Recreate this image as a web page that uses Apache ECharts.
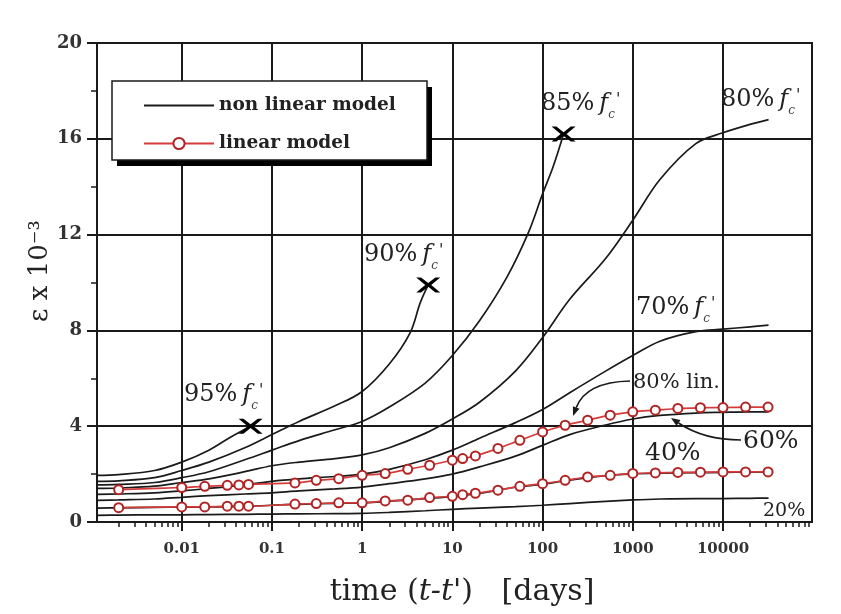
<!DOCTYPE html>
<html>
<head>
<meta charset="utf-8">
<script src="https://cdn.jsdelivr.net/npm/echarts@6/dist/echarts.min.js"></script>
<style>
  html, body { margin: 0; padding: 0; background: #fff; }
  #chart { width: 841px; height: 614px; }
</style>
</head>
<body>
<div id="chart"></div>
<script>
// ---- axis ticks ----
const xRange = [0.00115, 97000];                 // days
const xTickValues = [0.01, 0.1, 1, 10, 100, 1000, 10000];
const xTickLabels = ['0.01', '0.1', '1', '10', '100', '1000', '10000'];
const yTicks = [0, 4, 8, 12, 16, 20];

// ---- non linear model: sustained stress levels below failure ----
const tCreep = [0.00115, 0.002, 0.005, 0.01, 0.02, 0.05, 0.1, 0.2, 0.5, 1, 2, 5, 10, 20, 50, 100, 200, 500, 1000, 2000, 5000, 10000, 20000, 32000];
const eps80 = [1.40, 1.42, 1.50, 1.65, 1.80, 2.10, 2.35, 2.50, 2.65, 2.80, 3.10, 3.70, 4.30, 5.00, 6.30, 7.70, 9.30, 11.0, 12.6, 14.3, 15.8, 16.25, 16.6, 16.8];
const eps70 = [1.15, 1.17, 1.22, 1.30, 1.40, 1.55, 1.70, 1.80, 1.90, 2.00, 2.20, 2.60, 3.00, 3.50, 4.15, 4.70, 5.40, 6.30, 6.95, 7.55, 7.95, 8.05, 8.15, 8.22];
const eps60 = [0.90, 0.92, 0.96, 1.03, 1.10, 1.17, 1.22, 1.30, 1.38, 1.46, 1.60, 1.80, 2.00, 2.30, 2.75, 3.20, 3.65, 4.05, 4.30, 4.45, 4.55, 4.58, 4.60, 4.60];
const eps40 = [0.58, 0.59, 0.61, 0.62, 0.63, 0.65, 0.70, 0.74, 0.78, 0.80, 0.87, 0.98, 1.06, 1.20, 1.45, 1.58, 1.75, 1.93, 2.01, 2.04, 2.06, 2.07, 2.08, 2.08];
const eps20 = [0.28, 0.29, 0.30, 0.30, 0.31, 0.32, 0.33, 0.34, 0.35, 0.36, 0.40, 0.47, 0.53, 0.58, 0.64, 0.70, 0.77, 0.86, 0.92, 0.96, 0.98, 0.98, 0.99, 1.00];

// ---- non linear model: stress levels that end in failure (last point = failure) ----
const t95 = [0.00115, 0.002, 0.005, 0.01, 0.02, 0.035, 0.058];
const eps95 = [1.95, 1.98, 2.15, 2.50, 3.00, 3.55, 4.00];
const t90 = [0.00115, 0.002, 0.005, 0.01, 0.02, 0.05, 0.1, 0.2, 0.5, 1, 2, 3.4, 4.4, 5.4];
const eps90 = [1.70, 1.72, 1.85, 2.15, 2.50, 3.10, 3.65, 4.20, 4.85, 5.45, 6.60, 7.90, 9.15, 9.90];
const t85 = [0.00115, 0.002, 0.005, 0.01, 0.02, 0.05, 0.1, 0.2, 0.5, 1, 2, 5, 10, 20, 40, 70, 100, 130, 171];
const eps85 = [1.55, 1.57, 1.65, 1.85, 2.10, 2.60, 3.00, 3.40, 3.85, 4.20, 4.80, 5.80, 6.95, 8.40, 10.2, 12.1, 13.7, 14.8, 16.2];

// ---- linear model ----
const tLin = [0.002, 0.01, 0.018, 0.032, 0.043, 0.055, 0.18, 0.31, 0.55, 1, 1.8, 3.2, 5.6, 10, 13, 18, 32, 56, 100, 178, 316, 562, 1000, 1780, 3160, 5620, 10000, 17800, 31600];
const epsLin80 = [1.35, 1.44, 1.49, 1.53, 1.55, 1.57, 1.63, 1.74, 1.81, 1.95, 2.02, 2.20, 2.37, 2.58, 2.65, 2.76, 3.07, 3.41, 3.76, 4.04, 4.25, 4.46, 4.60, 4.67, 4.74, 4.77, 4.78, 4.80, 4.80];
const epsLin40 = [0.60, 0.63, 0.63, 0.66, 0.66, 0.66, 0.75, 0.77, 0.80, 0.80, 0.88, 0.91, 1.02, 1.07, 1.14, 1.20, 1.33, 1.49, 1.60, 1.74, 1.88, 1.95, 2.03, 2.05, 2.07, 2.08, 2.09, 2.09, 2.09];

// ---- helpers ----
const lg = Math.log10;
const pairs = (t, e) => t.map((v, i) => [lg(v), e[i]]);
const lastPoint = (t, e) => [lg(t[t.length - 1]), e[e.length - 1]];

const minorXTicks = [];
for (let p = -3; p <= 4; p++) {
  for (let k = 2; k <= 9; k++) {
    const v = k * Math.pow(10, p);
    if (v > xRange[0] && v < xRange[1]) minorXTicks.push(lg(v));
  }
}

const serif = 'DejaVu Serif';
const ink = '#1a1a1a';
const redLine = '#d43c3c';
const redMark = '#b02424';

function creepLine(t, e) {
  return {
    type: 'line', name: 'non linear model', data: pairs(t, e),
    symbol: 'none', smooth: 0.35,
    lineStyle: { color: ink, width: 1.7 }, itemStyle: { color: ink }, z: 3
  };
}
function linearLine(t, e) {
  return {
    type: 'line', name: 'linear model', data: pairs(t, e),
    symbol: 'emptyCircle', symbolSize: 9, smooth: 0.35,
    lineStyle: { color: redLine, width: 1.7 },
    itemStyle: { color: redMark, borderWidth: 2 }, z: 4
  };
}

// stress-level annotation with italic f'c
function fcNote(pct, x, y) {
  return {
    type: 'text', x: x, y: y, z: 20,
    style: {
      text: '{n|' + pct + '}{f|f}{c|c}{p|\'}',
      align: 'left', verticalAlign: 'middle',
      rich: {
        n: { fontFamily: serif, fontSize: 24, lineHeight: 26, verticalAlign: 'top', fill: '#222' },
        f: { fontFamily: serif, fontSize: 24, fontStyle: 'italic', lineHeight: 26, verticalAlign: 'top', padding: [0, 0, 0, 5], fill: '#222' },
        c: { fontFamily: serif, fontSize: 12, fontStyle: 'italic', verticalAlign: 'top', padding: [17, 0, 0, 0], fill: '#444' },
        p: { fontFamily: serif, fontSize: 16, verticalAlign: 'top', padding: [0, 0, 0, 1], fill: '#222' }
      }
    }
  };
}
function plainNote(text, x, y, size) {
  return {
    type: 'text', x: x, y: y, z: 20,
    style: { text: text, fontFamily: serif, fontSize: size, fill: '#222', align: 'left', verticalAlign: 'middle' }
  };
}
// curved pointer with a filled arrow head
function pointer(x0, y0, cx, cy, x1, y1) {
  const dx = x1 - cx, dy = y1 - cy, len = Math.hypot(dx, dy);
  const ux = dx / len, uy = dy / len, L = 9, W = 3.5;
  const bx = x1 - ux * L, by = y1 - uy * L;
  return {
    type: 'group', z: 20,
    children: [
      { type: 'bezierCurve', shape: { x1: x0, y1: y0, cpx1: cx, cpy1: cy, x2: bx, y2: by },
        style: { stroke: ink, lineWidth: 1.6, fill: null } },
      { type: 'polygon', shape: { points: [[x1, y1], [bx - uy * W, by + ux * W], [bx + uy * W, by - ux * W]] },
        style: { fill: ink } }
    ]
  };
}

const chart = echarts.init(document.getElementById('chart'));

chart.setOption({
  animation: false,
  backgroundColor: '#fff',
  grid: { left: 97, right: 29, top: 43, bottom: 92, show: true, borderColor: ink, borderWidth: 2 },
  legend: {
    data: [
      { name: 'non linear model', itemStyle: { opacity: 0 } },
      { name: 'linear model' }
    ],
    orient: 'vertical', left: 112, top: 81, z: 12,
    itemWidth: 70, itemHeight: 14, itemGap: 19,
    padding: [15, 30, 13, 31],
    selectedMode: false,
    textStyle: { fontFamily: serif, fontWeight: 'bold', fontSize: 18.5, color: '#222' }
  },
  xAxis: [
    {
      type: 'value', min: lg(xRange[0]), max: lg(xRange[1]),
      axisLine: { show: true, onZero: false, lineStyle: { color: ink, width: 2 } },
      axisTick: { show: true, customValues: xTickValues.map(lg), length: 9, lineStyle: { color: ink, width: 2 } },
      axisLabel: {
        customValues: xTickValues.map(lg), margin: 20,
        formatter: v => xTickLabels[xTickValues.findIndex(t => Math.abs(lg(t) - v) < 1e-6)],
        fontFamily: serif, fontWeight: 'bold', fontSize: 15, color: '#333'
      },
      splitLine: { show: true, lineStyle: { color: ink, width: 2 } }
    },
    {
      type: 'value', position: 'bottom', offset: 0, min: lg(xRange[0]), max: lg(xRange[1]),
      axisLine: { show: false, onZero: false },
      axisTick: { show: true, customValues: minorXTicks, length: 5, lineStyle: { color: ink, width: 1.5 } },
      axisLabel: { show: false },
      splitLine: { show: false }
    }
  ],
  yAxis: {
    type: 'value', min: yTicks[0], max: yTicks[yTicks.length - 1], interval: 4,
    axisLine: { show: true, onZero: false, lineStyle: { color: ink, width: 2 } },
    axisTick: { show: true, length: 10, lineStyle: { color: ink, width: 2 } },
    minorTick: { show: true, splitNumber: 2, length: 6, lineStyle: { color: ink, width: 1.5 } },
    axisLabel: { margin: 15, fontFamily: serif, fontWeight: 'bold', fontSize: 18, color: '#333' },
    splitLine: { show: true, lineStyle: { color: ink, width: 2 } }
  },
  series: [
    creepLine(t95, eps95),
    creepLine(t90, eps90),
    creepLine(t85, eps85),
    creepLine(tCreep, eps80),
    creepLine(tCreep, eps70),
    creepLine(tCreep, eps60),
    creepLine(tCreep, eps40),
    creepLine(tCreep, eps20),
    linearLine(tLin, epsLin80),
    linearLine(tLin, epsLin40),
    {
      type: 'scatter', name: 'failure', z: 6,
      data: [lastPoint(t95, eps95), lastPoint(t90, eps90), lastPoint(t85, eps85)],
      symbol: 'path://M0,0 L4,0 L10,4.5 L16,0 L20,0 L12.5,6 L20,12 L16,12 L10,7.5 L4,12 L0,12 L7.5,6 Z',
      symbolSize: [24, 15], itemStyle: { color: '#000', opacity: 1 }
    }
  ],
  graphic: [
    // legend frame with its hard drop shadow
    { type: 'rect', z: 10, shape: { x: 117, y: 87, width: 315, height: 79 }, style: { fill: '#000' } },
    { type: 'rect', z: 11, shape: { x: 112, y: 81, width: 315, height: 79 }, style: { fill: '#fff', stroke: ink, lineWidth: 1.5 } },
    fcNote('95%', 184, 397),
    fcNote('90%', 364, 257),
    fcNote('85%', 541, 106),
    fcNote('80%', 721, 102),
    fcNote('70%', 636, 310),
    plainNote('80% lin.', 633, 383, 21),
    plainNote('40%', 645, 453, 25),
    plainNote('60%', 743, 441, 25),
    plainNote('20%', 763, 511, 19),
    pointer(630, 381, 586, 382, 573, 416),
    pointer(741, 440, 704, 440, 671, 418),
    {
      type: 'text', x: 462, y: 592, z: 20,
      style: {
        text: '{a|time (}{i|t-t\'}{a|)   [days]}', align: 'center', verticalAlign: 'middle',
        rich: {
          a: { fontFamily: serif, fontSize: 30, fill: '#222' },
          i: { fontFamily: serif, fontSize: 30, fontStyle: 'italic', fill: '#222' }
        }
      }
    },
    {
      type: 'text', x: 40, y: 271, rotation: Math.PI / 2, z: 20,
      style: { text: 'ε x 10⁻³', fontFamily: serif, fontSize: 26, fill: '#222', align: 'center', verticalAlign: 'middle' }
    }
  ]
});
</script>
</body>
</html>
